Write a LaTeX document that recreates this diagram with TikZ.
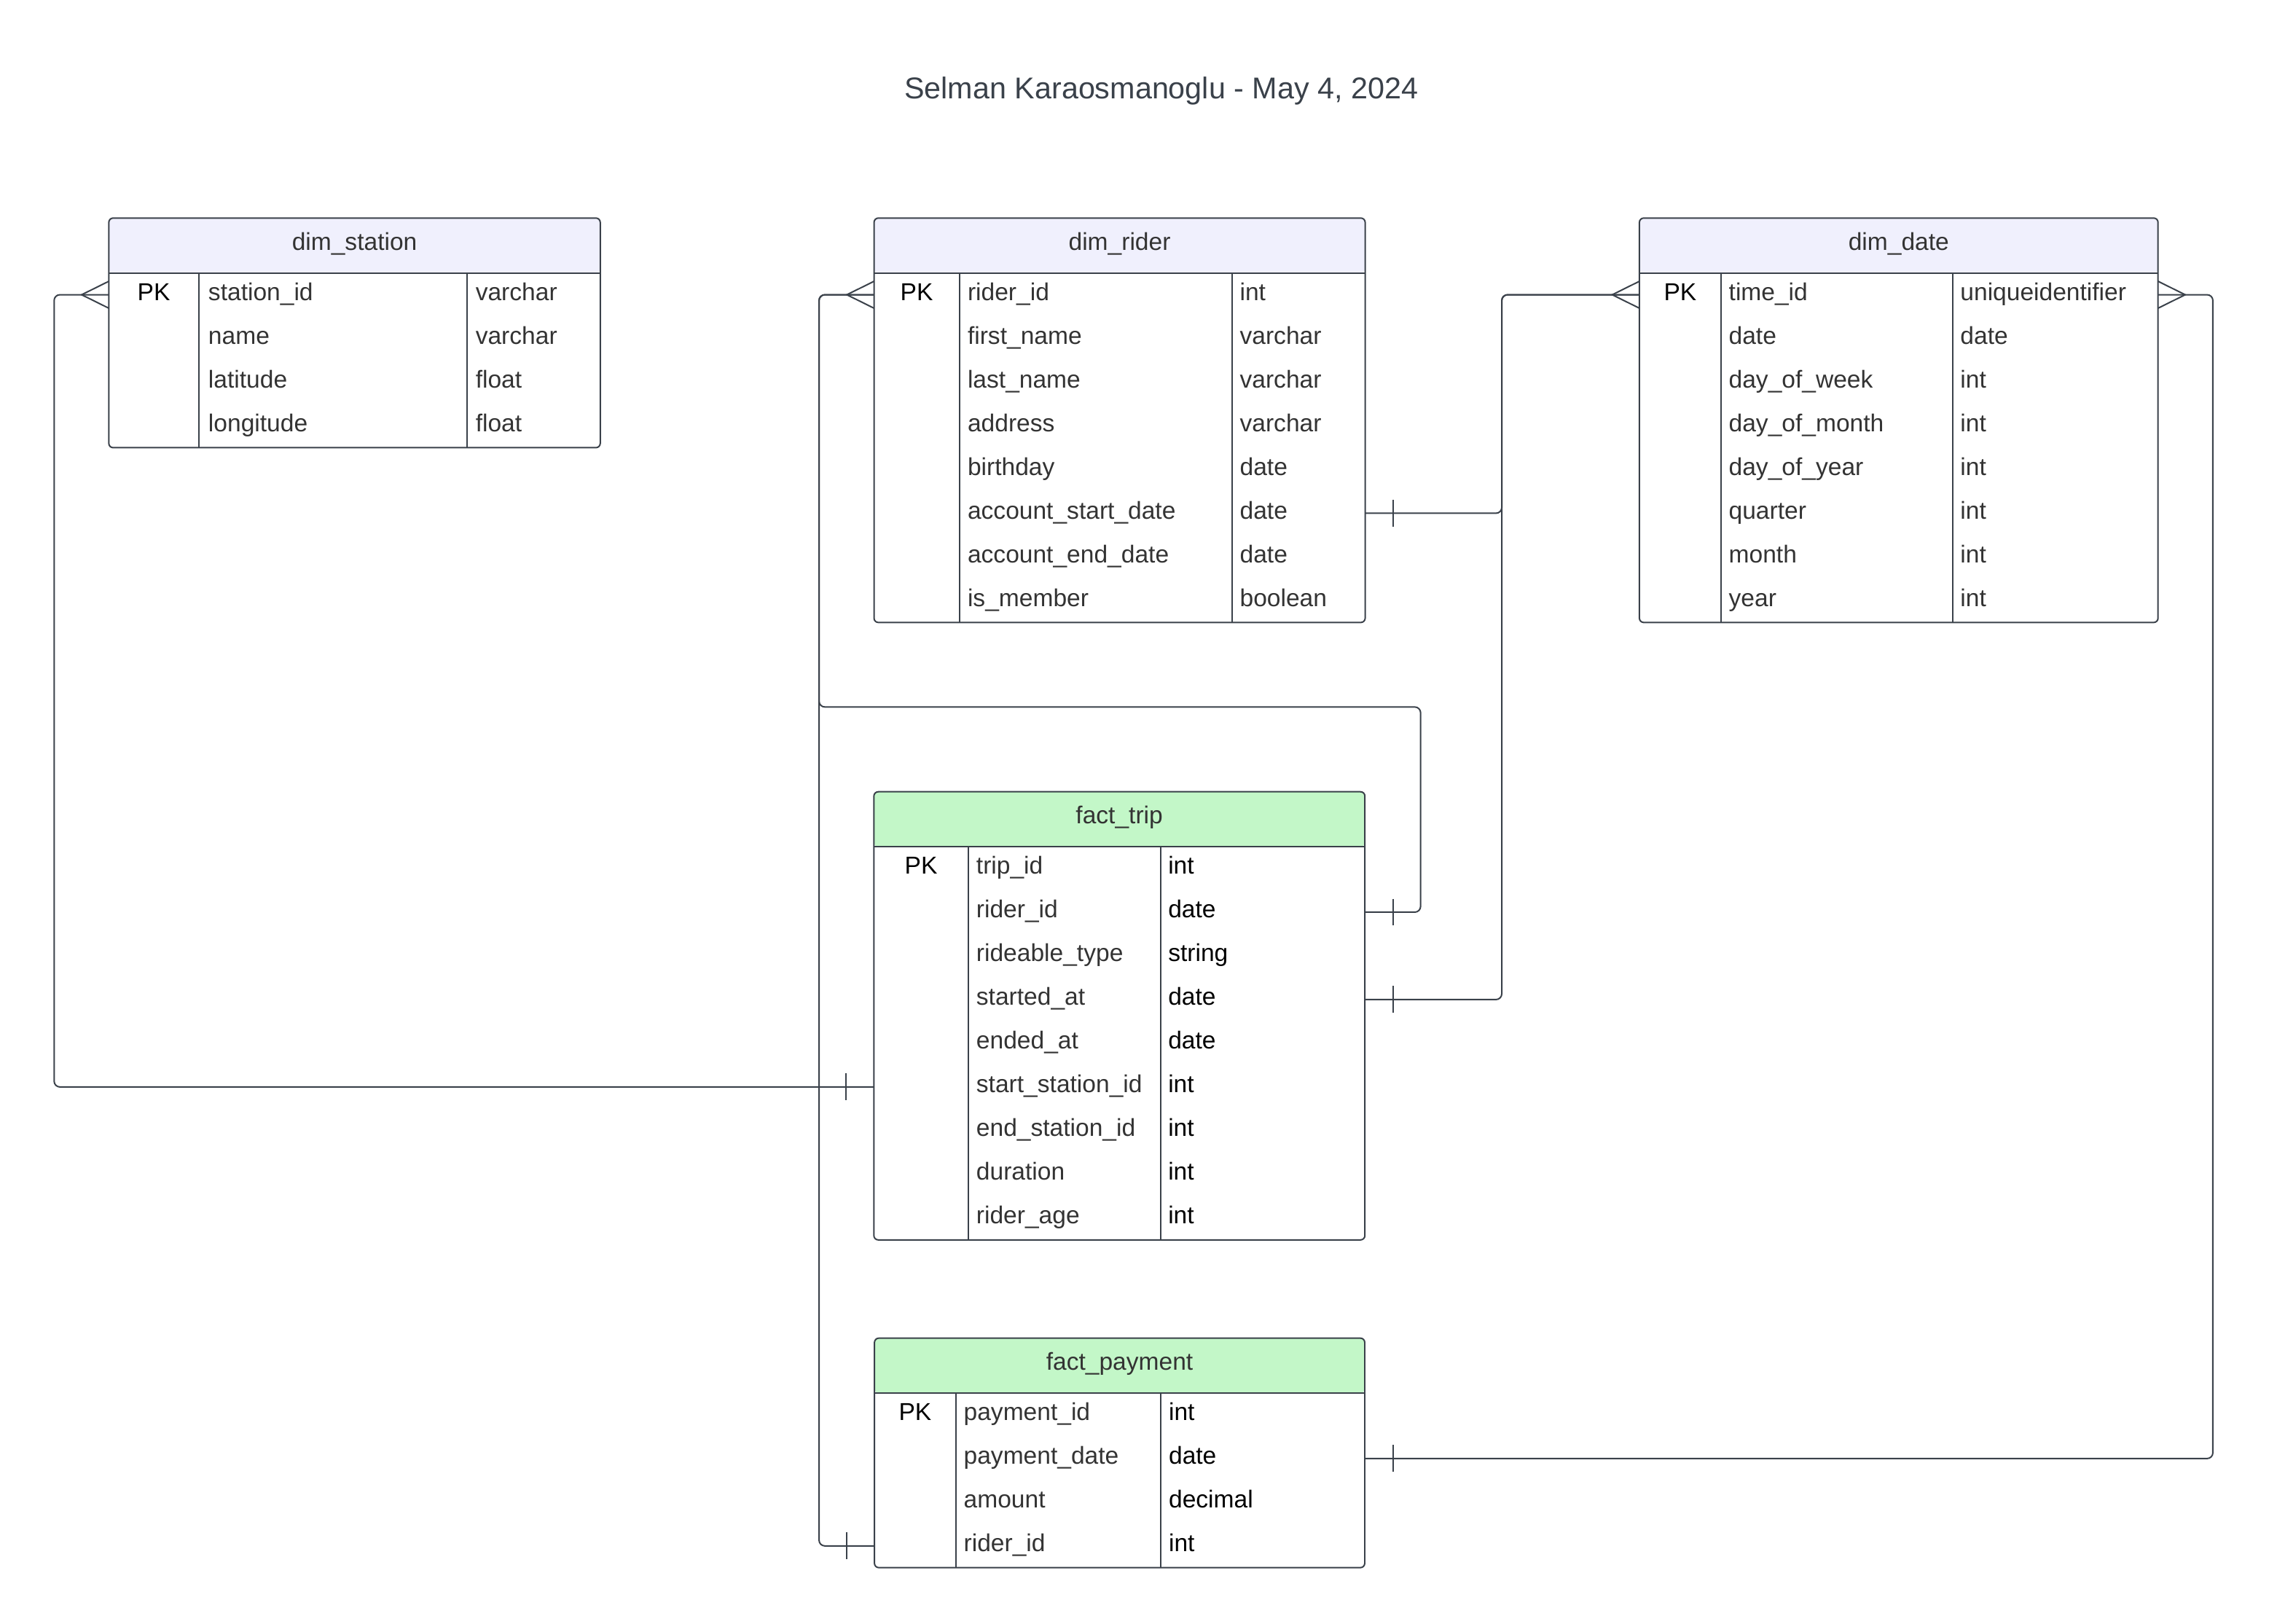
\documentclass[tikz,border=0pt]{standalone}
\usepackage{fontspec}
\setmainfont{Liberation Sans}
\usetikzlibrary{calc}
\definecolor{lineGray}{HTML}{3A414A}
\definecolor{textGray}{HTML}{333333}
\definecolor{dimHead}{HTML}{F0F0FD}
\definecolor{factHead}{HTML}{C3F7C8}
\tikzset{
  crowfoot/.pic={\draw[lineGray] (0,-9.3) -- (-18.8,0) -- (0,9.3);},
  onebar/.pic={\draw[lineGray] (-19.4,-9.3) -- (-19.4,9.3);}
}

\begin{document}
\begin{tikzpicture}[x=1pt, y=-1pt, line width=1pt,
    tbl/.style={draw=lineGray, rounded corners=3pt, anchor=north west, inner sep=0pt, outer sep=0pt},
    headfill/.style={path picture={\fill[#1] (path picture bounding box.north west) rectangle ([yshift=-37.9pt]path picture bounding box.north east);}},
    cell/.style={font=\fontsize{16.9}{20}\selectfont, text=textGray, inner sep=0pt, text height=12.4pt, text depth=4.6pt},
    fld/.style={cell, anchor=west},
    conn/.style={draw=lineGray, rounded corners=4pt}]
        \useasboundingbox (0,0) rectangle (1568,1122);

        \node[font=\fontsize{20.8}{25}\selectfont, text=lineGray, anchor=base] (title) at (802.5,68) {Selman Karaosmanoglu - May 4, 2024};

        % dim_station
        \node[tbl, headfill=dimHead, minimum width=339.6pt, minimum height=158.7pt] (station) at (75.2,150.7) {};
        \draw[lineGray] (75.2,188.6) -- (414.8,188.6);
        \draw[lineGray] (137.5,188.6) -- (137.5,309.4);
        \draw[lineGray] (322.8,188.6) -- (322.8,309.4);
        \node[cell] (stationT) at (245,168.9) {dim\_station};
        \node[cell, text=black] (stationPK) at (106.3,203.7) {PK};
        \foreach \fname/\ftype [count=\i] in {station\_id/varchar, name/varchar, latitude/float, longitude/float}{
            \node[fld] (st\i) at (143.5,{173.5+30.2*\i}) {\fname};
            \node[fld] (stT\i) at (328.2,{173.5+30.2*\i}) {\ftype};
        }

        % dim_rider
        \node[tbl, headfill=dimHead, minimum width=339.4pt, minimum height=279.5pt] (rider) at (604,150.7) {};
        \draw[lineGray] (604,188.6) -- (943.4,188.6);
        \draw[lineGray] (663.1,188.6) -- (663.1,430.2);
        \draw[lineGray] (851.4,188.6) -- (851.4,430.2);
        \node[cell] (riderT) at (773.7,168.9) {dim\_rider};
        \node[cell, text=black] (riderPK) at (633.5,203.7) {PK};
        \foreach \fname/\ftype [count=\i] in {rider\_id/int, first\_name/varchar, last\_name/varchar, address/varchar, birthday/date, account\_start\_date/date, account\_end\_date/date, is\_member/boolean}{
            \node[fld] (rd\i) at (668.2,{173.5+30.2*\i}) {\fname};
            \node[fld] (rdT\i) at (856.3,{173.5+30.2*\i}) {\ftype};
        }

        % dim_date
        \node[tbl, headfill=dimHead, minimum width=358.4pt, minimum height=279.5pt] (date) at (1132.9,150.7) {};
        \draw[lineGray] (1132.9,188.6) -- (1491.3,188.6);
        \draw[lineGray] (1189.3,188.6) -- (1189.3,430.2);
        \draw[lineGray] (1349.4,188.6) -- (1349.4,430.2);
        \node[cell] (dateT) at (1312.1,168.9) {dim\_date};
        \node[cell, text=black] (datePK) at (1161.1,203.7) {PK};
        \foreach \fname/\ftype [count=\i] in {time\_id/uniqueidentifier, date/date, day\_of\_week/int, day\_of\_month/int, day\_of\_year/int, quarter/int, month/int, year/int}{
            \node[fld] (dt\i) at (1194.2,{173.5+30.2*\i}) {\fname};
            \node[fld] (dtT\i) at (1354.2,{173.5+30.2*\i}) {\ftype};
        }

        % fact_trip
        \node[tbl, headfill=factHead, minimum width=339.3pt, minimum height=309.7pt] (trip) at (603.9,547.2) {};
        \draw[lineGray] (603.9,585.1) -- (943.2,585.1);
        \draw[lineGray] (669.2,585.1) -- (669.2,856.9);
        \draw[lineGray] (801.9,585.1) -- (801.9,856.9);
        \node[cell] (tripT) at (773.5,565.4) {fact\_trip};
        \node[cell, text=black] (tripPK) at (636.5,600.2) {PK};
        \foreach \fname/\ftype [count=\i] in {trip\_id/int, rider\_id/date, rideable\_type/string, started\_at/date, ended\_at/date, start\_station\_id/int, end\_station\_id/int, duration/int, rider\_age/int}{
            \node[fld] (tr\i) at (674.2,{570+30.2*\i}) {\fname};
            \node[fld, text=black] (trT\i) at (806.8,{570+30.2*\i}) {\ftype};
        }

        % fact_payment
        \node[tbl, headfill=factHead, minimum width=338.8pt, minimum height=158.6pt] (pay) at (604.3,924.8) {};
        \draw[lineGray] (604.3,962.7) -- (943.1,962.7);
        \draw[lineGray] (660.5,962.7) -- (660.5,1083.4);
        \draw[lineGray] (802.1,962.7) -- (802.1,1083.4);
        \node[cell] (payT) at (773.7,943) {fact\_payment};
        \node[cell, text=black] (payPK) at (632.4,977.8) {PK};
        \foreach \fname/\ftype [count=\i] in {payment\_id/int, payment\_date/date, amount/decimal, rider\_id/int}{
            \node[fld] (py\i) at (665.5,{947.6+30.2*\i}) {\fname};
            \node[fld, text=black] (pyT\i) at (807.2,{947.6+30.2*\i}) {\ftype};
        }

        % relations
        \draw[conn] (station.west |- st1) -- ++(-37.8,0) |- (trip.west |- tr6);
        \draw[conn] (rider.west |- rd1) -- ++(-38,0) |- (981.7,488.6) |- (trip.east |- tr2);
        \draw[conn] (rider.west |- rd1) -- ++(-38,0) |- (pay.west |- py4);
        \draw[conn] (date.west |- dt1) -- ++(-95.1,0) |- (rider.east |- rd6);
        \draw[conn] (date.west |- dt1) -- ++(-95.1,0) |- (trip.east |- tr4);
        \draw[conn] (date.east |- dt1) -- ++(37.9,0) |- (pay.east |- py2);

        \pic at (station.west |- st1) {crowfoot};
        \pic at (rider.west |- rd1) {crowfoot};
        \pic at (date.west |- dt1) {crowfoot};
        \pic[xscale=-1] at (date.east |- dt1) {crowfoot};
        \pic at (trip.west |- tr6) {onebar};
        \pic at (pay.west |- py4) {onebar};
        \pic[xscale=-1] at (trip.east |- tr2) {onebar};
        \pic[xscale=-1] at (trip.east |- tr4) {onebar};
        \pic[xscale=-1] at (rider.east |- rd6) {onebar};
        \pic[xscale=-1] at (pay.east |- py2) {onebar};
    \end{tikzpicture}
\end{document}
